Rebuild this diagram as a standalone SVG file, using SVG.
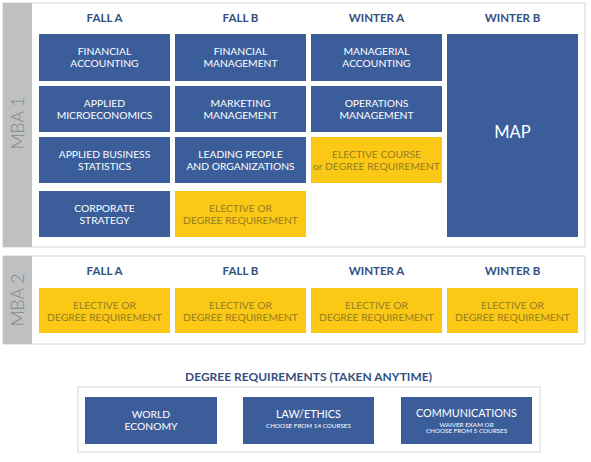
<svg xmlns="http://www.w3.org/2000/svg" width="591" height="462" viewBox="0 0 591 462">
<style>
.panel{fill:#ffffff;stroke:#e3e4e6;stroke-width:1.5}
.bar{fill:#bfc0c2}
.bar-t{font-family:Lato,"Liberation Sans",sans-serif;font-weight:300;font-size:17.5px;fill:#858688;text-anchor:middle}
.hdr{font-family:Lato,"Liberation Sans",sans-serif;font-weight:700;font-size:11.5px;fill:#34507f;text-anchor:middle}
.b{fill:#3b5e9b}
.y{fill:#fcc816}
.bt{font-family:Lato,"Liberation Sans",sans-serif;font-size:10.3px;fill:#ffffff;text-anchor:middle}
.yt{font-family:Lato,"Liberation Sans",sans-serif;font-size:10.3px;fill:#947d22;text-anchor:middle}
.st{font-family:Lato,"Liberation Sans",sans-serif;font-size:6.3px;fill:#ffffff;text-anchor:middle}
</style>
<g id="connectors"/>
<g id="mba1-panel">
<rect class="panel" x="3" y="3" width="582" height="244"/>
<rect class="bar" x="3" y="3" width="29" height="244"/>
<text class="bar-t" transform="translate(23.5,123) rotate(-90)">MBA 1</text>
<text class="hdr" x="104.5" y="22">FALL A</text>
<text class="hdr" x="240.5" y="22">FALL B</text>
<text class="hdr" x="376.5" y="22">WINTER A</text>
<text class="hdr" x="512.5" y="22">WINTER B</text>
</g>
<g id="financial-accounting"><rect class="b" x="39" y="34" width="131" height="47"/><text class="bt" x="104.5" y="55">FINANCIAL</text><text class="bt" x="104.5" y="67">ACCOUNTING</text></g>
<g id="financial-management"><rect class="b" x="175" y="34" width="131" height="47"/><text class="bt" x="240.5" y="55">FINANCIAL</text><text class="bt" x="240.5" y="67">MANAGEMENT</text></g>
<g id="managerial-accounting"><rect class="b" x="311" y="34" width="131" height="47"/><text class="bt" x="376.5" y="55">MANAGERIAL</text><text class="bt" x="376.5" y="67">ACCOUNTING</text></g>
<g id="map"><rect class="b" x="447" y="34" width="131" height="203"/><text class="bt" x="512.5" y="138" style="font-size:16.5px">MAP</text></g>
<g id="applied-micro"><rect class="b" x="39" y="86" width="131" height="46"/><text class="bt" x="104.5" y="107">APPLIED</text><text class="bt" x="104.5" y="119">MICROECONOMICS</text></g>
<g id="marketing-management"><rect class="b" x="175" y="86" width="131" height="46"/><text class="bt" x="240.5" y="107">MARKETING</text><text class="bt" x="240.5" y="119">MANAGEMENT</text></g>
<g id="operations-management"><rect class="b" x="311" y="86" width="131" height="46"/><text class="bt" x="376.5" y="107">OPERATIONS</text><text class="bt" x="376.5" y="119">MANAGEMENT</text></g>
<g id="applied-stats"><rect class="b" x="39" y="137" width="131" height="46"/><text class="bt" x="104.5" y="157.5">APPLIED BUSINESS</text><text class="bt" x="104.5" y="169.5">STATISTICS</text></g>
<g id="leading-people"><rect class="b" x="175" y="137" width="131" height="46"/><text class="bt" x="240.5" y="157.5">LEADING PEOPLE</text><text class="bt" x="240.5" y="169.5">AND ORGANIZATIONS</text></g>
<g id="elective-winter-a-1"><rect class="y" x="311" y="137" width="131" height="46"/><text class="yt" x="376.5" y="157.5">ELECTIVE COURSE</text><text class="yt" x="376.5" y="169.5">or DEGREE REQUIREMENT</text></g>
<g id="corporate-strategy"><rect class="b" x="39" y="191" width="131" height="46"/><text class="bt" x="104.5" y="212">CORPORATE</text><text class="bt" x="104.5" y="224">STRATEGY</text></g>
<g id="elective-fall-b-1"><rect class="y" x="175" y="191" width="131" height="46"/><text class="yt" x="240.5" y="212">ELECTIVE OR</text><text class="yt" x="240.5" y="224">DEGREE REQUIREMENT</text></g>
<g id="mba2-panel">
<rect class="panel" x="3" y="256" width="582" height="88"/>
<rect class="bar" x="3" y="256" width="29" height="88"/>
<text class="bar-t" transform="translate(23.5,300) rotate(-90)">MBA 2</text>
<text class="hdr" x="104.5" y="275">FALL A</text>
<text class="hdr" x="240.5" y="275">FALL B</text>
<text class="hdr" x="376.5" y="275">WINTER A</text>
<text class="hdr" x="512.5" y="275">WINTER B</text>
</g>
<g id="mba2-fall-a"><rect class="y" x="39" y="288" width="131" height="45"/><text class="yt" x="104.5" y="308.5">ELECTIVE OR</text><text class="yt" x="104.5" y="320.5">DEGREE REQUIREMENT</text></g>
<g id="mba2-fall-b"><rect class="y" x="175" y="288" width="131" height="45"/><text class="yt" x="240.5" y="308.5">ELECTIVE OR</text><text class="yt" x="240.5" y="320.5">DEGREE REQUIREMENT</text></g>
<g id="mba2-winter-a"><rect class="y" x="311" y="288" width="131" height="45"/><text class="yt" x="376.5" y="308.5">ELECTIVE OR</text><text class="yt" x="376.5" y="320.5">DEGREE REQUIREMENT</text></g>
<g id="mba2-winter-b"><rect class="y" x="447" y="288" width="131" height="45"/><text class="yt" x="512.5" y="308.5">ELECTIVE OR</text><text class="yt" x="512.5" y="320.5">DEGREE REQUIREMENT</text></g>
<g id="degree-panel">
<text class="hdr" x="308.5" y="381" style="font-size:12px">DEGREE REQUIREMENTS (TAKEN ANYTIME)</text>
<rect class="panel" x="78" y="387" width="462" height="65"/>
</g>
<g id="world-economy"><rect class="b" x="85" y="397" width="132" height="47"/><text class="bt" x="151" y="417.5">WORLD</text><text class="bt" x="151" y="429.5">ECONOMY</text></g>
<g id="law-ethics"><rect class="b" x="243" y="397" width="131" height="47"/><text class="bt" x="308.5" y="417.5" style="font-size:10.8px">LAW/ETHICS</text><text class="st" x="308.5" y="428">CHOOSE FROM 14 COURSES</text></g>
<g id="communications"><rect class="b" x="401" y="397" width="131" height="47"/><text class="bt" x="466.5" y="417" style="font-size:10.8px">COMMUNICATIONS</text><text class="st" x="466.5" y="426.5">WAIVER EXAM OR</text><text class="st" x="466.5" y="433">CHOOSE FROM 5 COURSES</text></g>
</svg>
